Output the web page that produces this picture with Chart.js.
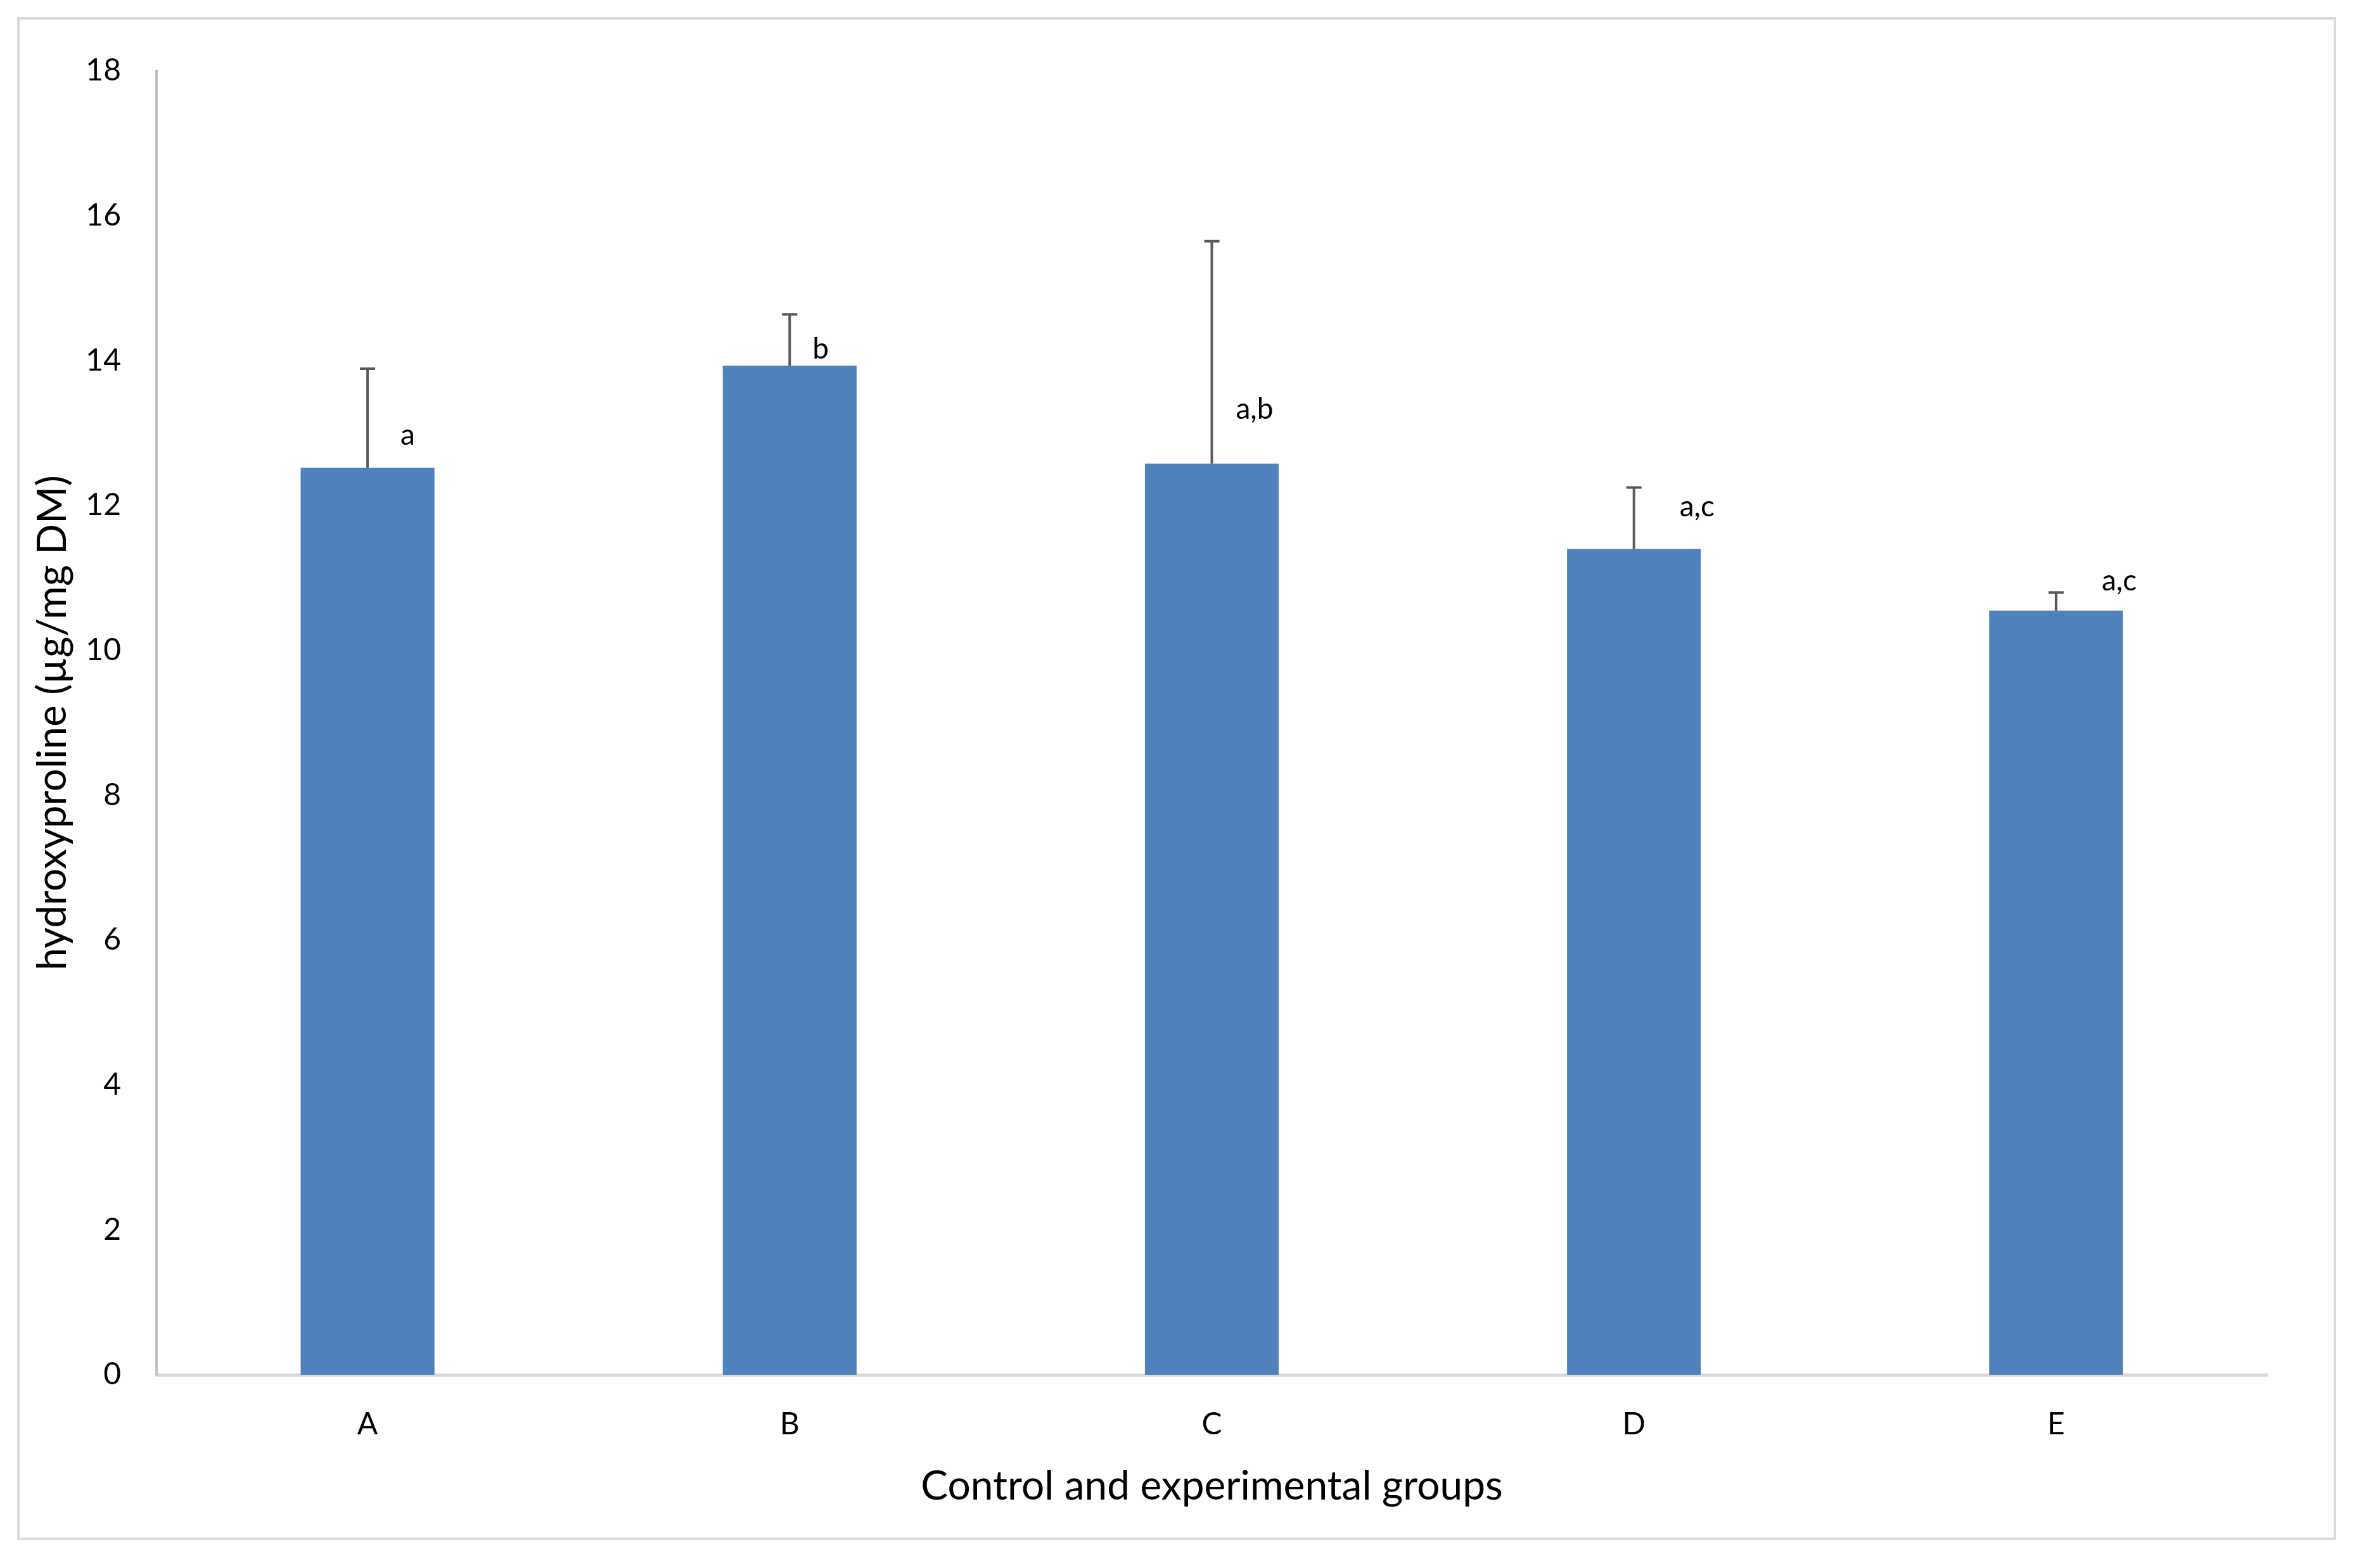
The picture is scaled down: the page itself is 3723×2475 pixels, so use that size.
<!DOCTYPE html>
<html>
<head>
<meta charset="utf-8">
<script src="https://cdn.jsdelivr.net/npm/chart.js@4.4.1/dist/chart.umd.min.js"></script>
<style>
    html, body { margin: 0; padding: 0; background: #ffffff; }
    #wrap { width: 3723px; height: 2475px; position: relative; }
</style>
</head>
<body>
<div id="wrap"><canvas id="chart-hyp"></canvas></div>
<script>
// Datos
const grupos = ["A", "B", "C", "D", "E"];
const medias = [12.52, 13.93, 12.58, 11.40, 10.55];
const errores = [1.37, 0.71, 3.07, 0.85, 0.25];
const letras = ["a", "b", "a,b", "a,c", "a,c"];
const letrasY = [12.97, 14.16, 13.33, 11.98, 10.96];
const ticksY = [0, 2, 4, 6, 8, 10, 12, 14, 16, 18];

document.addEventListener("DOMContentLoaded", () => {
    // Marco exterior
    const marco = {
        id: "marco",
        beforeDraw(chart) {
            const c = chart.ctx;
            c.save();
            c.fillStyle = "#ffffff";
            c.fillRect(0, 0, chart.width, chart.height);
            c.strokeStyle = "#d9d9d9";
            c.lineWidth = 4;
            c.strokeRect(29, 29, 3656, 2400);
            c.restore();
        }
    };

    // Barras de error (solo hacia arriba) y letras
    const barrasError = {
        id: "barrasError",
        afterDatasetsDraw(chart) {
            const c = chart.ctx;
            const y = chart.scales.y;
            const meta = chart.getDatasetMeta(0);
            c.save();
            c.strokeStyle = "#595959";
            c.lineWidth = 4;
            meta.data.forEach((bar, i) => {
                const yTop = y.getPixelForValue(medias[i] + errores[i]);
                const yBase = y.getPixelForValue(medias[i]);
                c.beginPath();
                c.moveTo(bar.x, yBase);
                c.lineTo(bar.x, yTop);
                c.moveTo(bar.x - 12, yTop);
                c.lineTo(bar.x + 12, yTop);
                c.stroke();
            });
            c.fillStyle = "#000000";
            c.font = "46px Lato";
            c.textAlign = "left";
            c.textBaseline = "middle";
            meta.data.forEach((bar, i) => {
                const off = letras[i].length > 1 ? 38 : 52;
                c.fillText(letras[i], bar.x + off - (i === 1 ? 16 : 0) + (i >= 3 ? 34 : 0), y.getPixelForValue(letrasY[i]));
            });
            c.restore();
        }
    };

    const ctxHyp = document.getElementById("chart-hyp").getContext("2d");
    new Chart(ctxHyp, {
        type: "bar",
        data: {
            labels: grupos,
            datasets: [{
                data: medias,
                backgroundColor: "#4f81bd",
                borderWidth: 0,
                barPercentage: 0.317,
                categoryPercentage: 1
            }]
        },
        options: {
            responsive: true,
            maintainAspectRatio: false,
            animation: false,
            layout: {
                padding: { top: 112, right: 145, left: 0, bottom: 0 }
            },
            plugins: {
                legend: { display: false },
                tooltip: { enabled: false }
            },
            scales: {
                x: {
                    grid: { display: false, drawTicks: false },
                    border: { display: true, color: "#d9d9d9", width: 5 },
                    ticks: {
                        color: "#000000",
                        padding: 50,
                        font: { family: "Lato", size: 48 }
                    },
                    title: {
                        display: true,
                        text: "Control and experimental groups",
                        color: "#000000",
                        font: { family: "Lato", size: 64 },
                        padding: { top: 0, bottom: 90 }
                    },
                    afterFit: (scale) => { scale.height = 2475 - 2170; }
                },
                y: {
                    min: 0,
                    max: 18,
                    grid: { display: false, drawTicks: false },
                    border: { display: true, color: "#bfbfbf", width: 4 },
                    afterBuildTicks: (scale) => {
                        scale.ticks = ticksY.map((v) => ({ value: v }));
                    },
                    ticks: {
                        color: "#000000",
                        padding: 56,
                        font: { family: "Lato", size: 48 }
                    },
                    title: {
                        display: true,
                        text: "hydroxyproline (µg/mg DM)",
                        color: "#000000",
                        font: { family: "Lato", size: 64 },
                        padding: { top: 45, bottom: 0 }
                    },
                    afterFit: (scale) => { scale.width = 247; }
                }
            }
        },
        plugins: [marco, barrasError]
    });
});
</script>
</body>
</html>
